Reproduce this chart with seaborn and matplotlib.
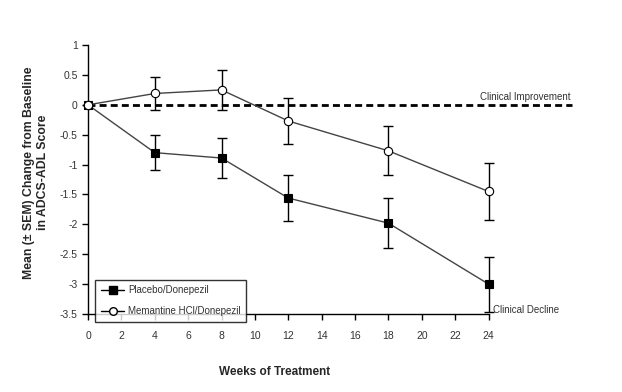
import pandas as pd
import matplotlib
matplotlib.use("Agg")
import matplotlib.pyplot as plt
import seaborn as sns

# values
weeks = [0, 4, 8, 12, 18, 24]
placebo_mean = [0.0, -0.80, -0.89, -1.56, -1.98, -3.00]
placebo_sem = [0.0, 0.29, 0.33, 0.38, 0.42, 0.46]
memantine_mean = [0.0, 0.19, 0.25, -0.27, -0.77, -1.45]
memantine_sem = [0.0, 0.28, 0.33, 0.38, 0.41, 0.48]
group_names = ["Placebo/Donepezil", "Memantine HCl/Donepezil"]
x_ticks = list(range(0, 25, 2))
y_ticks = [1, 0.5, 0, -0.5, -1, -1.5, -2, -2.5, -3, -3.5]

sns.set_style("white")
plt.rcParams["font.family"] = ["Liberation Sans Narrow", "Liberation Sans", "DejaVu Sans"]

df = pd.DataFrame({
    "week": weeks * 2,
    "mean": placebo_mean + memantine_mean,
    "sem": placebo_sem + memantine_sem,
    "group": [group_names[0]] * len(weeks) + [group_names[1]] * len(weeks),
})

fig = plt.figure(figsize=(6.22, 3.92), dpi=100)
ax = fig.add_axes([0.1415, 0.199, 0.644, 0.686])

# zero reference line, runs past the last tick
ax.plot([0, 29], [0, 0], color="black", lw=2, ls=(0, (2.5, 1.5)), clip_on=False, zorder=1)

# error bars first so markers sit on top
for name in group_names:
    sub = df[df["group"] == name]
    eb = ax.errorbar(sub["week"], sub["mean"], yerr=sub["sem"], fmt="none",
                     ecolor="black", elinewidth=1, capsize=3.5, capthick=1, zorder=2)
    for art in eb.lines[1] + eb.lines[2]:
        art.set_clip_on(False)

sns.lineplot(data=df, x="week", y="mean", hue="group", style="group",
             palette={group_names[0]: "#444444", group_names[1]: "#444444"},
             markers={group_names[0]: "s", group_names[1]: "o"},
             dashes=False, linewidth=1, markersize=6, ax=ax, zorder=3,
             legend=False)

# fix marker faces: filled square, open circle
for l in ax.get_lines():
    if l.get_marker() in ("s", "o"):
        l.set_clip_on(False)
        l.set_markeredgecolor("black")
        l.set_markerfacecolor("black" if l.get_marker() == "s" else "white")
        l.set_markeredgewidth(0.8)

ax.set_xlim(0, 24)
ax.set_ylim(-3.5, 1)
ax.set_xticks(x_ticks)
ax.set_yticks(y_ticks)
ax.set_yticklabels([f"{v:g}" for v in y_ticks])
ax.tick_params(axis="both", direction="out", length=4, width=1, color="black",
               labelsize=7.5, labelcolor="#333333", left=True, bottom=True)
ax.tick_params(axis="x", pad=8)
for side in ["top", "right"]:
    ax.spines[side].set_visible(False)
for side in ["left", "bottom"]:
    ax.spines[side].set_color("black")
    ax.spines[side].set_linewidth(1)

ax.set_xlabel("")
ax.set_ylabel("")
fig.text(0.442, 0.05, "Weeks of Treatment", ha="center", va="center",
         fontsize=8.5, fontweight="bold", family=["Liberation Sans", "DejaVu Sans"])
fig.text(0.058, 0.56, "Mean (\u00b1 SEM) Change from Baseline\nin ADCS-ADL Score",
         ha="center", va="center", rotation=90, fontsize=8.8, fontweight="bold",
         linespacing=1.2, family=["Liberation Sans", "DejaVu Sans"])

ax.text(28.9, 0.05, "Clinical Improvement", ha="right", va="bottom", fontsize=7,
        color="#333333", clip_on=False)
ax.text(24.25, -3.43, "Clinical Decline", ha="left", va="center", fontsize=7,
        color="#333333", clip_on=False)

# legend built from the drawn lines
handles = [plt.Line2D([], [], color="black", lw=1, marker="s", markersize=5.5,
                      markerfacecolor="black", markeredgecolor="black"),
           plt.Line2D([], [], color="black", lw=1, marker="o", markersize=5.5,
                      markerfacecolor="white", markeredgecolor="black")]
leg = fig.legend(handles, group_names, loc="lower left",
                 bbox_to_anchor=(95 / 622, 1 - 322 / 392), fancybox=False,
                 frameon=True, fontsize=7, handlelength=2.4, borderpad=0.6,
                 labelspacing=1.1, handletextpad=0.4, borderaxespad=0)
leg.get_frame().set_edgecolor("black")
leg.get_frame().set_linewidth(1)
for t in leg.get_texts():
    t.set_color("#333333")

fig.savefig("out.png", dpi=100, facecolor="white")
